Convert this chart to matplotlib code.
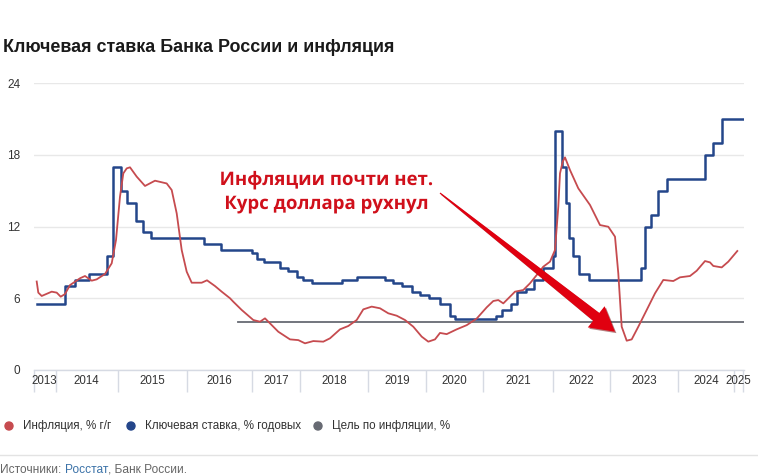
import matplotlib
matplotlib.use("Agg")
import matplotlib.pyplot as plt
import matplotlib.patheffects as pe
from matplotlib.patches import Polygon, Ellipse
from matplotlib.transforms import blended_transform_factory, IdentityTransform
import numpy as np

plt.rcParams['font.family'] = ['Liberation Sans', 'DejaVu Sans']

W, H = 758, 476

# x is the position along the (uneven) time axis, 0..710
years = ["2013", "2014", "2015", "2016", "2017", "2018", "2019",
         "2020", "2021", "2022", "2023", "2024", "2025"]
year_edges = [0, 21.5, 84, 153, 218, 266, 334, 392, 449, 519, 576, 644, 700, 709]

# key rate, % (steps)
rate_x = [2.7, 31, 41, 55.3, 72.7, 79.3, 86.7, 93.3, 102, 109.3, 116.7, 170,
          186.7, 217.7, 223.3, 230, 246, 254.3, 262.7, 269.3, 277.7, 307.7,
          322.7, 351, 359.3, 367.7, 377.7, 386, 395.3, 406, 416, 421, 462,
          467.7, 476.7, 483.3, 492, 500, 508.7, 518.7, 521, 528.3, 531.7, 535,
          538.7, 545.3, 555.3, 606.7, 611, 616.7, 624.3, 632.7, 671, 679.3,
          687.7, 710]
rate_val = [5.5, 7.0, 7.5, 8.0, 9.5, 17, 15, 14, 12.5, 11.5, 11, 10.5, 10,
            9.75, 9.25, 9.0, 8.5, 8.25, 7.75, 7.5, 7.25, 7.5, 7.75, 7.5, 7.25,
            7.0, 6.5, 6.25, 6.0, 5.5, 4.5, 4.25, 4.5, 5.0, 5.5, 6.5, 6.75, 7.5,
            8.5, 9.5, 20, 17, 14, 11, 9.5, 8.0, 7.5, 8.5, 12, 13, 15, 16, 18,
            19, 21, 21]

# inflation, % y/y
infl_x = [2.7, 4.3, 7.7, 17.7, 22.7, 26.7, 31, 36, 46, 51, 57.7, 62.7, 71,
          77.7, 82, 86, 89.3, 92.7, 96, 102.7, 111, 121, 132.7, 137.7, 142.7,
          147.7, 152.7, 157.7, 167.7, 173, 181, 187.7, 196, 199.3, 207.7,
          219.3, 226, 231, 236, 244.3, 256, 264.3, 271, 279.3, 289.3, 296,
          306, 314.3, 322.7, 329.3, 337.7, 346, 354.3, 362.7, 371, 379.3,
          387.7, 394.3, 401, 406, 412.7, 422.7, 432.7, 442.7, 452.7, 459.3,
          464.3, 469.3, 476, 481, 489.3, 496, 502.7, 509.3, 516, 521, 524.3,
          526, 528.7, 531, 536, 544.3, 556, 566, 574.3, 581, 584.3, 587.7,
          592.7, 597.7, 604.3, 612.7, 621, 629.3, 639.3, 646, 656, 662.7, 671,
          676, 679.3, 687.7, 694.3, 703.3]
infl_val = [7.4, 6.47, 6.19, 6.55, 6.47, 6.13, 6.35, 7.1, 7.67, 7.86, 7.47,
            7.58, 8.03, 8.92, 10.87, 14.5, 16.44, 16.86, 16.95, 16.17, 15.39,
            15.83, 15.6, 15.05, 13.1, 10.03, 8.22, 7.3, 7.3, 7.5, 7.02, 6.55,
            6.0, 5.71, 5.02, 4.18, 4.04, 4.32, 3.9, 3.2, 2.56, 2.5, 2.23, 2.42,
            2.37, 2.65, 3.4, 3.68, 4.18, 5.07, 5.3, 5.16, 4.74, 4.54, 4.18,
            3.62, 2.79, 2.37, 2.56, 3.1, 3.0, 3.4, 3.75, 4.3, 5.24, 5.77, 5.85,
            5.57, 6.13, 6.55, 6.69, 7.25, 7.94, 8.64, 9.06, 10.03, 13.66,
            16.44, 17.42, 17.78, 16.72, 15.19, 13.8, 12.12, 11.98, 11.15, 8.08,
            3.62, 2.45, 2.56, 3.62, 5.02, 6.41, 7.53, 7.44, 7.75, 7.86, 8.3,
            9.11, 9.0, 8.7, 8.58, 9.06, 9.95]

# inflation target
target_x = [204.3, 710]
target_val = [4, 4]

y_ticks = [0, 6, 12, 18, 24]

red = "#c64b4f"
blue = "#24468a"
grey = "#676a73"


def fx(x):
    return x / W


def fy(y):
    return 1 - y / H


fig = plt.figure(figsize=(W / 100, H / 100), dpi=100)
ax = fig.add_axes([fx(34), fy(370), 710 / W, 287 / H])

ax.plot(target_x, target_val, color=grey, lw=1.3, zorder=2)
ax.step(rate_x, rate_val, where="post", color=blue, lw=1.8, zorder=3)
ax.plot(infl_x, infl_val, color=red, lw=1.3, zorder=4)

ax.set_xlim(0, 710)
ax.set_ylim(0, 24)
ax.set_yticks(y_ticks)
ax.set_yticklabels([str(v) for v in y_ticks])
ax.set_xticks([])
ax.tick_params(axis="y", length=0, pad=10, labelsize=8.5, labelcolor="#333333")
ax.yaxis.grid(True, color="#e8e8e8", lw=1)
ax.set_axisbelow(True)
for s in ["top", "right", "left"]:
    ax.spines[s].set_visible(False)
ax.spines["bottom"].set_color("#d6dae3")
ax.spines["bottom"].set_linewidth(1)

# year separators and labels
trans = blended_transform_factory(ax.transData, ax.transAxes)
ax.vlines(year_edges, -22 / 287, 0, transform=trans, color="#d6dae3",
          lw=1, clip_on=False)
for i, yr in enumerate(years):
    xc = (year_edges[i] + year_edges[i + 1]) / 2
    ax.text(xc, -11 / 287, yr, transform=trans, ha="center", va="center",
            fontsize=8.3, color="#333333")

# title
fig.text(fx(3), fy(47), "Ключевая ставка Банка России и инфляция",
         fontsize=12.9, fontweight="bold", color="#1a1a1a", va="center")

# annotation text
ann_color = "#d0101b"
for txt, yy in [("Инфляции почти нет.", 180), ("Курс доллара рухнул", 204)]:
    fig.text(fx(327), fy(yy), txt, ha="center", va="center", fontsize=13.4,
             fontweight="bold", color=ann_color, family="Open Sans",
             path_effects=[pe.withStroke(linewidth=3, foreground="white")])

# arrow (built in display pixels)
fig.canvas.draw()
S = np.array(ax.transData.transform((406, 14.8)))
T = np.array(ax.transData.transform((581, 3.2)))
d = T - S
u = d / np.hypot(*d)
n = np.array([-u[1], u[0]])
head_len, head_w, w0, w1 = 24, 27, 1.2, 10
B = T - u * head_len
pts = [S + n * w0 / 2, B + n * w1 / 2, B + n * head_w / 2, T,
       B - n * head_w / 2, B - n * w1 / 2, S - n * w0 / 2]
arrow = Polygon(pts, closed=True, transform=IdentityTransform(),
                facecolor="#e00010", edgecolor="none", zorder=10,
                path_effects=[pe.SimplePatchShadow(offset=(1, -1),
                                                   shadow_rgbFace="#6a0000",
                                                   alpha=0.5),
                              pe.Normal()])
fig.add_artist(arrow)

# legend
leg = [(9, red, "Инфляция, % г/г"),
       (131, blue, "Ключевая ставка, % годовых"),
       (318, grey, "Цель по инфляции, %")]
for x0, c, label in leg:
    fig.add_artist(Ellipse((fx(x0), fy(426)), 8 / W, 8 / H, color=c))
    fig.text(fx(x0 + 14), fy(426), label, fontsize=8.4, color="#333333",
             va="center")

# divider and sources
fig.add_artist(plt.Line2D([0, 1], [fy(455), fy(455)], color="#e3e3e3", lw=1))
renderer = fig.canvas.get_renderer()
xpos = 0
for part, c in [("Источники: ", "#666666"), ("Росстат", "#3b72a8"),
                (", Банк России.", "#666666")]:
    t = fig.text(fx(xpos), fy(470), part, fontsize=8.6, color=c, va="center")
    bb = t.get_window_extent(renderer)
    xpos += bb.width

fig.savefig("out.png", dpi=100)
